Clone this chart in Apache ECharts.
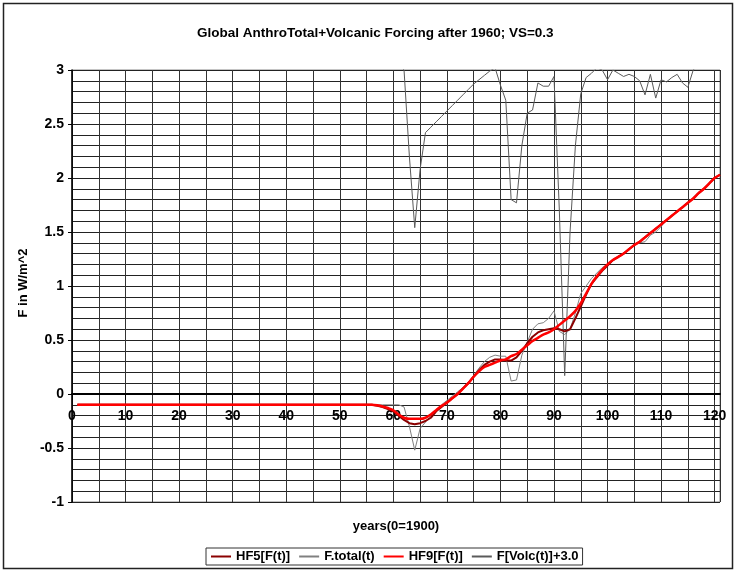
<!DOCTYPE html>
<html>
<head>
<meta charset="utf-8">
<script src="https://cdn.jsdelivr.net/npm/echarts@6/dist/echarts.min.js"></script>
<style>
html,body{margin:0;padding:0;background:#fff;}
#chart{width:736px;height:571px;}
</style>
</head>
<body>
<div id="chart"></div>
<script>
// ---- data (years after 1900) ----
var years = [];
for (var i = 1; i <= 121; i++) years.push(i);

var flat56 = [];
for (var j = 1; j <= 56; j++) flat56.push(-0.1);

// HF9[F(t)] years 57..121
var hf9Tail = [-0.105,-0.115,-0.13,-0.15,-0.19,-0.22,-0.23,-0.23,-0.23,-0.22,-0.19,-0.15,-0.11,-0.08,-0.04,0.0,0.05,0.1,0.16,0.21,0.25,0.27,0.29,0.31,0.32,0.35,0.37,0.41,0.45,0.49,0.52,0.55,0.57,0.6,0.64,0.68,0.72,0.77,0.84,0.93,1.02,1.09,1.15,1.2,1.24,1.27,1.3,1.34,1.38,1.41,1.45,1.49,1.53,1.57,1.61,1.65,1.69,1.73,1.77,1.81,1.86,1.9,1.95,2.0,2.03];
// HF5[F(t)] years 57..121
var hf5Tail = [-0.11,-0.12,-0.14,-0.16,-0.2,-0.24,-0.27,-0.28,-0.27,-0.25,-0.22,-0.16,-0.12,-0.08,-0.04,0.0,0.05,0.1,0.16,0.22,0.27,0.3,0.32,0.32,0.31,0.31,0.34,0.4,0.47,0.53,0.57,0.59,0.6,0.61,0.6,0.58,0.6,0.7,0.81,0.92,1.02,1.08,1.14,1.19,1.24,1.27,1.3,1.34,1.38,1.41,1.45,1.49,1.53,1.57,1.61,1.65,1.69,1.73,1.77,1.81,1.86,1.9,1.95,2.0,2.03];
// F.total(t) years 57..121
var ftotTail = [-0.1,-0.1,-0.1,-0.1,-0.1,-0.12,-0.3,-0.52,-0.32,-0.26,-0.2,-0.15,-0.1,-0.06,-0.02,0.02,0.06,0.11,0.17,0.24,0.3,0.34,0.36,0.35,0.35,0.12,0.13,0.36,0.48,0.6,0.65,0.66,0.7,0.77,0.58,0.55,0.6,0.75,0.93,1.0,1.07,1.12,1.17,1.2,1.24,1.27,1.3,1.34,1.38,1.4,1.41,1.47,1.5,1.55,1.61,1.65,1.69,1.73,1.77,1.81,1.86,1.9,1.95,2.0,2.03];
// F[Volc(t)]+3.0 years 60..121
var volcTail = [3.05,3.05,3.0,2.2,1.54,2.08,2.42,2.47,2.52,2.57,2.62,2.67,2.72,2.77,2.82,2.87,2.91,2.95,2.99,3.02,2.86,2.72,1.8,1.77,2.3,2.6,2.63,2.88,2.85,2.85,2.94,1.7,0.17,1.5,2.3,2.78,2.93,2.97,3.02,3.0,2.91,3.0,2.97,2.94,2.96,2.94,2.9,2.77,2.96,2.74,2.91,2.89,2.93,2.96,2.88,2.84,3.0,3.05,3.05,3.05,3.05,3.05];

var hf9 = flat56.concat(hf9Tail);
var hf5 = flat56.concat(hf5Tail);
var ftot = flat56.concat(ftotTail);
var volc = [];
for (var k = 1; k < 60; k++) volc.push(null);
volc = volc.concat(volcTail);

var xTickLabels = [0,10,20,30,40,50,60,70,80,90,100,110,120];
var yTickLabels = [-1,-0.5,0,0.5,1,1.5,2,2.5,3];

function pairs(arr){ return years.map(function(y,i){ return [y, arr[i]]; }); }

var FONT = '"Liberation Sans",Arial,sans-serif';
var chart = echarts.init(document.getElementById('chart'), null, {renderer:'canvas'});
chart.setOption({
  animation:false,
  backgroundColor:'#fff',
  title:{
    text:'Global AnthroTotal+Volcanic Forcing after 1960; VS=0.3',
    left:192, top:21,
    textStyle:{fontFamily:FONT, fontWeight:'bold', fontSize:13.5, color:'#000'}
  },
  graphic:[
    {type:'rect', shape:{x:3.5,y:3.5,width:729,height:565}, style:{fill:null, stroke:'#222', lineWidth:1.5}, silent:true},
    {type:'text', x:396, y:526, style:{text:'years(0=1900)', fontFamily:FONT, fontWeight:'bold', fontSize:13, fill:'#000', align:'center', verticalAlign:'middle'}, silent:true},
    {type:'text', x:23, y:283, rotation:Math.PI/2, style:{text:'F in W/m^2', fontFamily:FONT, fontWeight:'bold', fontSize:13, fill:'#000', align:'center', verticalAlign:'middle'}, silent:true}
  ],
  legend:{
    left:206, top:548, orient:'horizontal',
    data:['HF5[F(t)]','F.total(t)','HF9[F(t)]','F[Volc(t)]+3.0'],
    borderColor:'#333', borderWidth:1, padding:[2,4,2,4], itemGap:8,
    itemWidth:20, itemHeight:8,
    itemStyle:{opacity:0},
    textStyle:{fontFamily:FONT, fontWeight:'bold', fontSize:13, color:'#000'}
  },
  grid:{left:72, top:70, width:648, height:432, show:true, borderColor:'#888', borderWidth:1, outerBoundsMode:'none', containLabel:false},
  xAxis:[
    {
      type:'value', min:0, max:121, interval:5,
      axisLine:{show:false, onZero:false}, axisTick:{show:false}, axisLabel:{show:false},
      splitLine:{show:true, lineStyle:{color:'#333', width:1}}
    },
    {
      type:'value', min:0, max:121, interval:10, position:'bottom', offset:-108,
      axisLine:{show:true, onZero:false, lineStyle:{color:'#000', width:2}},
      axisTick:{show:true, customValues:xTickLabels, length:6, lineStyle:{color:'#000', width:1}},
      axisLabel:{customValues:xTickLabels, margin:15, fontFamily:FONT, fontWeight:'bold', fontSize:14, color:'#000'},
      splitLine:{show:false}
    }
  ],
  yAxis:[
    {
      type:'value', min:-1, max:3, interval:0.1, position:'left',
      axisLine:{show:false, onZero:false}, axisTick:{show:false}, axisLabel:{show:false},
      splitLine:{show:true, lineStyle:{color:'#222', width:1}}
    },
    {
      type:'value', min:-1, max:3, interval:0.5, position:'left', offset:0,
      axisLine:{show:true, onZero:false, lineStyle:{color:'#000', width:1.5}},
      axisTick:{show:true, customValues:yTickLabels, length:4, lineStyle:{color:'#000'}},
      axisLabel:{customValues:yTickLabels, margin:8, fontFamily:FONT, fontWeight:'bold', fontSize:14, color:'#000'},
      splitLine:{show:false}
    }
  ],
  series:[
    {name:'F.total(t)', type:'line', xAxisIndex:0, yAxisIndex:0, data:pairs(ftot), showSymbol:false, symbol:'none', lineStyle:{color:'#808080', width:1}, itemStyle:{color:'#808080'}, z:3},
    {name:'F[Volc(t)]+3.0', type:'line', xAxisIndex:0, yAxisIndex:0, data:pairs(volc), showSymbol:false, symbol:'none', connectNulls:false, lineStyle:{color:'#5a5a5a', width:1}, itemStyle:{color:'#5a5a5a'}, z:3},
    {name:'HF5[F(t)]', type:'line', xAxisIndex:0, yAxisIndex:0, data:pairs(hf5), showSymbol:false, symbol:'none', lineStyle:{color:'#8b0000', width:2}, itemStyle:{color:'#8b0000'}, z:4},
    {name:'HF9[F(t)]', type:'line', xAxisIndex:0, yAxisIndex:0, data:pairs(hf9), showSymbol:false, symbol:'none', smooth:0.3, lineStyle:{color:'#ff0000', width:2.5}, itemStyle:{color:'#ff0000'}, z:5}
  ]
});
</script>
</body>
</html>
